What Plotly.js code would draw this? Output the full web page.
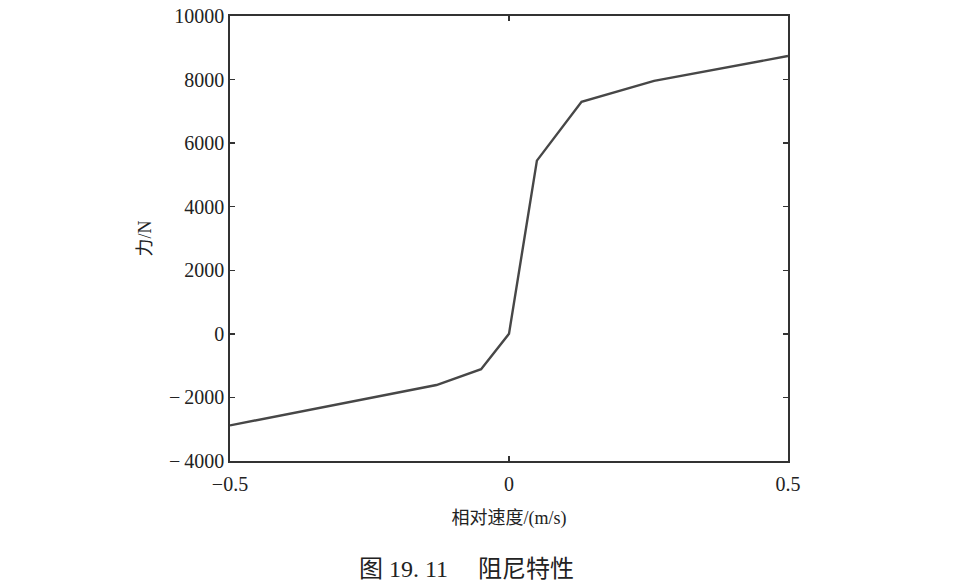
<!DOCTYPE html>
<html>
<head>
<meta charset="utf-8">
<script src="https://cdn.plot.ly/plotly-3.0.1.min.js"></script>
<style>html,body{margin:0;padding:0;background:#fff;}#chart{width:960px;height:588px;}</style>
</head>
<body>
<div id="chart"></div>
<script>
const velocity = [-0.5, -0.13, -0.05, 0, 0.05, 0.13, 0.26, 0.5];
const force = [-2880, -1610, -1110, 0, 5450, 7300, 7960, 8740];
const xTickVals = [-0.5, 0, 0.5];
const xTickText = ['\u22120.5', '0', '0.5'];
const yTickVals = [-4000, -2000, 0, 2000, 4000, 6000, 8000, 10000];
const yTickText = ['\u2212\u20094000', '\u2212\u20092000', '0', '2000', '4000', '6000', '8000', '10000'];
const xTitle = '相对速度/(m/s)';
const yTitle = '力/N';
const caption = '图 19. 11\u00a0\u00a0\u00a0\u00a0\u00a0阻尼特性';

const serif = '"Liberation Serif", "Noto Sans CJK SC", serif';

Plotly.newPlot('chart', [{
  x: velocity, y: force, type: 'scatter', mode: 'lines',
  line: {color: '#474747', width: 2.4}, hoverinfo: 'skip'
}], {
  width: 960, height: 588,
  margin: {l: 229.5, r: 171.5, t: 16, b: 127},
  paper_bgcolor: '#fff', plot_bgcolor: '#fff',
  showlegend: false,
  font: {family: serif, color: '#222', size: 20},
  xaxis: {
    range: [-0.5, 0.5], tickvals: xTickVals, ticktext: xTickText,
    ticks: 'inside', ticklen: 5, tickwidth: 1.5, tickcolor: '#333',
    showline: true, linecolor: '#333', linewidth: 1.8, mirror: 'ticks',
    showgrid: false, zeroline: false, ticklabelstandoff: 4,
    tickfont: {family: serif, size: 20, color: '#222'},
    title: {text: xTitle, font: {family: serif, size: 18, color: '#222'}, standoff: 18}
  },
  yaxis: {
    range: [-4000, 10000], tickvals: yTickVals, ticktext: yTickText,
    ticks: 'inside', ticklen: 5, tickwidth: 1.5, tickcolor: '#333',
    showline: true, linecolor: '#333', linewidth: 1.8, mirror: 'ticks',
    showgrid: false, zeroline: false,
    tickfont: {family: serif, size: 20, color: '#222'},
    title: {text: yTitle, font: {family: serif, size: 18, color: '#222'}, standoff: 13}
  },
  annotations: [{
    text: caption, xref: 'paper', yref: 'paper',
    x: (466 - 229.5) / 559, y: -(569 - 461) / 445,
    xanchor: 'center', yanchor: 'middle', showarrow: false,
    font: {family: serif, size: 24, color: '#222'}
  }]
}, {displayModeBar: false, staticPlot: true});
</script>
</body>
</html>
